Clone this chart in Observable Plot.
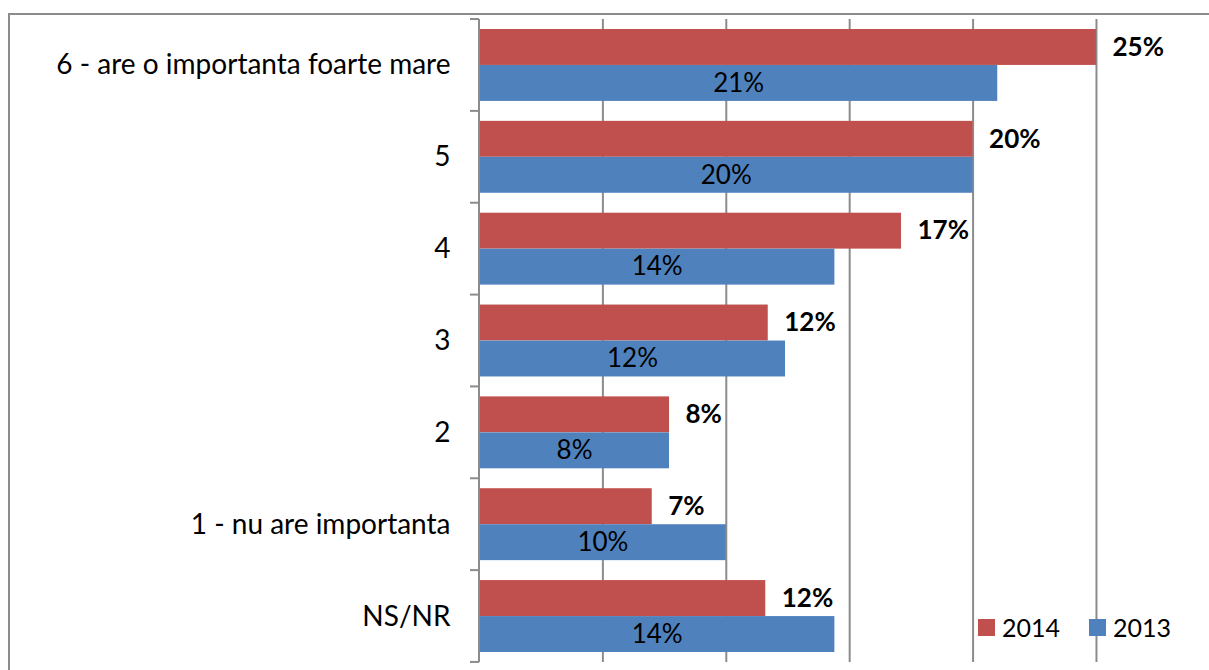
<!DOCTYPE html>
<html>
<head>
<meta charset="utf-8">
<script src="https://cdn.jsdelivr.net/npm/d3@7"></script>
<script src="https://cdn.jsdelivr.net/npm/@observablehq/plot@0.6"></script>
<style>
  body { margin: 0; background: #fff; }
  #wrap { position: relative; width: 1209px; height: 670px; overflow: hidden; background: #fff; }
  #border { position: absolute; left: 8px; top: 13px; width: 1300px; height: 700px;
            border-top: 2px solid #8c8c8c; border-left: 2px solid #8c8c8c; z-index: 2; pointer-events: none; }
  #legend { position: absolute; left: 978px; top: 612px; z-index: 3; display: flex; align-items: center;
            font-family: Lato, "Open Sans", sans-serif; font-size: 25px; color: #000; }
  #legend .sw { width: 17px; height: 17px; display: inline-block; margin-right: 7px; }
  #legend .item { display: flex; align-items: center; margin-right: 29px; }
</style>
</head>
<body>
<div id="wrap">
  <div id="border"></div>
  <div id="chart"></div>
  <div id="legend"></div>
</div>
<script>
// ---- data ----
const categories = ["6 - are o importanta foarte mare", "5", "4", "3", "2", "1 - nu are importanta", "NS/NR"];
const values2014 = [25.0, 20.0, 17.1, 11.7, 7.7, 7.0, 11.6];
const values2013 = [21.0, 20.0, 14.4, 12.4, 7.7, 10.0, 14.4];
const seriesNames = ["2014", "2013"];
const seriesColors = ["#C0504D", "#4F81BD"];
const gridTicks = [5, 10, 15, 20, 25];

const d2014 = categories.map((c, i) => ({cat: c, value: values2014[i]}));
const d2013 = categories.map((c, i) => ({cat: c, value: values2013[i]}));
const pct = d => Math.round(d.value) + "%";

function categoryAxis(index, scales) {
  const y = scales.y, x = scales.x;
  let bw, step;
  if (typeof y.bandwidth === "function") { bw = y.bandwidth(); step = y.step(); }
  else { step = y(categories[1]) - y(categories[0]); bw = step * (1 - 0.217); }
  const gap = (step - bw) / 2;
  const ys = categories.map(c => y(c) - gap);
  ys.push(y(categories[categories.length - 1]) + bw + gap);
  const x0 = x(0);
  const g = d3.create("svg:g").attr("stroke", "#8c8c8c").attr("stroke-width", 2).attr("fill", "none");
  g.append("line").attr("x1", x0).attr("x2", x0).attr("y1", ys[0]).attr("y2", ys[ys.length - 1]);
  for (const yy of ys) g.append("line").attr("x1", x0 - 9).attr("x2", x0).attr("y1", yy).attr("y2", yy);
  return g.node();
}

const chart = Plot.plot({
  width: 1209,
  height: 670,
  marginTop: 19,
  marginBottom: 8,
  marginLeft: 479,
  marginRight: 0,
  style: { fontFamily: "Lato, 'Open Sans', sans-serif", fontSize: "28px", color: "#000", background: "transparent" },
  x: { domain: [0, 29.58], axis: null },
  y: { domain: categories, paddingInner: 0.217, paddingOuter: 0.109, round: false, tickSize: 0, tickPadding: 29, label: null },
  marks: [
    Plot.ruleX(gridTicks, { stroke: "#8c8c8c", strokeWidth: 2, strokeOpacity: 1 }),
    Plot.barX(d2014, { x: "value", y: "cat", fill: seriesColors[0], insetBottom: 36 }),
    Plot.barX(d2013, { x: "value", y: "cat", fill: seriesColors[1], insetTop: 36 }),
    categoryAxis,
    Plot.text(d2014, { x: "value", y: "cat", text: pct, dx: 16, dy: -18, textAnchor: "start",
                       fontWeight: "bold", fontSize: 26, fill: "#000" }),
    Plot.text(d2013, { x: d => d.value / 2, y: "cat", text: pct, dy: 18, textAnchor: "middle",
                       fontSize: 26, fill: "#000" })
  ]
});
document.getElementById("chart").appendChild(chart);

const legend = document.getElementById("legend");
seriesNames.forEach((name, i) => {
  const item = document.createElement("div");
  item.className = "item";
  const sw = document.createElement("span");
  sw.className = "sw";
  sw.style.background = seriesColors[i];
  item.appendChild(sw);
  item.appendChild(document.createTextNode(name));
  legend.appendChild(item);
});
</script>
</body>
</html>
